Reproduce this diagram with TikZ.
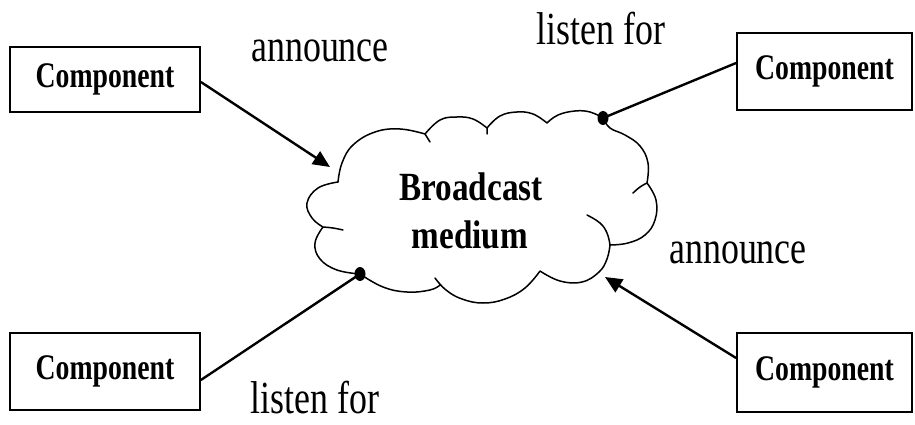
\documentclass[tikz,border=0pt]{standalone}
\usepackage{fontspec}
\setmainfont{Liberation Serif}
\usetikzlibrary{arrows.meta,calc}
\newcommand\complabel{\scalebox{0.77}[1]{\fontsize{36}{40}\selectfont\bfseries Component}}
\newcommand\plainlabel[1]{\scalebox{0.78}[1]{\fontsize{46}{50}\selectfont #1}}
\newcommand\medlabel[1]{\scalebox{0.83}[1]{\fontsize{40}{44}\selectfont\bfseries #1}}
\tikzset{
  compbox/.style={draw, line width=1.8pt, inner sep=0pt},
  link/.style={line width=2.4pt},
  announcearrow/.style={link, -{Triangle[length=17pt,width=15pt]}},
  cloudline/.style={line width=1.5pt, line cap=round},
  lobe/.style={smooth, tension=0.7},
  tag/.style={anchor=base, inner sep=0pt},
}
\begin{document}
\begin{tikzpicture}[x=1pt, y=-1pt]
\useasboundingbox (0,0) rectangle (915,425);

% component boxes
\node[compbox, minimum width=190pt, minimum height=65pt] (tl) at (105,79.5) {\complabel};
\node[compbox, minimum width=190pt, minimum height=77pt] (bl) at (105,371.5) {\complabel};
\node[compbox, minimum width=175pt, minimum height=77pt] (tr) at (824.5,71.5) {\complabel};
\node[compbox, minimum width=175pt, minimum height=79pt] (br) at (824.5,372.5) {\complabel};

% broadcast medium cloud
\draw[cloudline]
  plot[lobe] coordinates {(425,134) (400,129) (375,132) (353,145) (342,163) (338,182)}
  plot[lobe] coordinates {(338,182) (318,188) (307,203) (312,218) (323,227)}
  plot[lobe] coordinates {(323,227) (333,228) (343,230)}
  plot[lobe] coordinates {(323,227) (315,243) (320,259) (337,270) (360,274)}
  plot[lobe] coordinates {(360,274) (383,287) (407,292) (430,290) (440,285)}
  plot[lobe] coordinates {(435,278) (446,290) (462,299) (483,303) (505,299) (525,288) (540,271)}
  plot[lobe] coordinates {(540,271) (560,281) (582,282) (599,272) (607,259) (610,245)}
  plot[lobe] coordinates {(587,215) (600,223) (607,233) (610,245)}
  plot[lobe] coordinates {(610,245) (628,243) (645,235) (655,220) (656,200) (647,183)}
  plot[lobe] coordinates {(647,183) (640,187) (633,193)}
  plot[lobe] coordinates {(647,183) (648,163) (640,146) (625,135) (610,128) (603,118)}
  plot[lobe] coordinates {(603,118) (590,112) (575,111) (558,115) (547,123)}
  plot[lobe] coordinates {(547,123) (533,114) (517,112) (500,116) (487,128)}
  plot[lobe] coordinates {(487,128) (487,134)}
  plot[lobe] coordinates {(487,128) (473,119) (457,117) (440,120) (425,134)}
  plot[lobe] coordinates {(425,134) (430,142)};

\node[tag] (bc) at (471,200) {\medlabel{Broadcast}};
\node[tag] (md) at (470,248) {\medlabel{medium}};

% attachment points on the cloud
\coordinate (tipA) at (330,167);
\coordinate (tipB) at (605,277);
\coordinate (dotA) at (603,118);
\coordinate (dotB) at (360,274);
\fill (dotA) ellipse[x radius=5.5pt, y radius=7pt];
\fill (dotB) ellipse[x radius=5.5pt, y radius=7pt];

% connectors
\draw[announcearrow] ($(tl.east)+(0,2.5)$) -- (tipA);
\draw[announcearrow] ($(br.west)+(0,-14.5)$) -- (tipB);
\draw[link] ($(tr.west)+(0,-8.5)$) -- (dotA);
\draw[link] ($(bl.east)+(0,8.5)$) -- (dotB);

% labels
\node[tag] (la) at (320,62) {\plainlabel{announce}};
\node[tag] (lb) at (601,45) {\plainlabel{listen for}};
\node[tag] (lc) at (738,263) {\plainlabel{announce}};
\node[tag] (ld) at (315,413) {\plainlabel{listen for}};
\end{tikzpicture}
\end{document}
